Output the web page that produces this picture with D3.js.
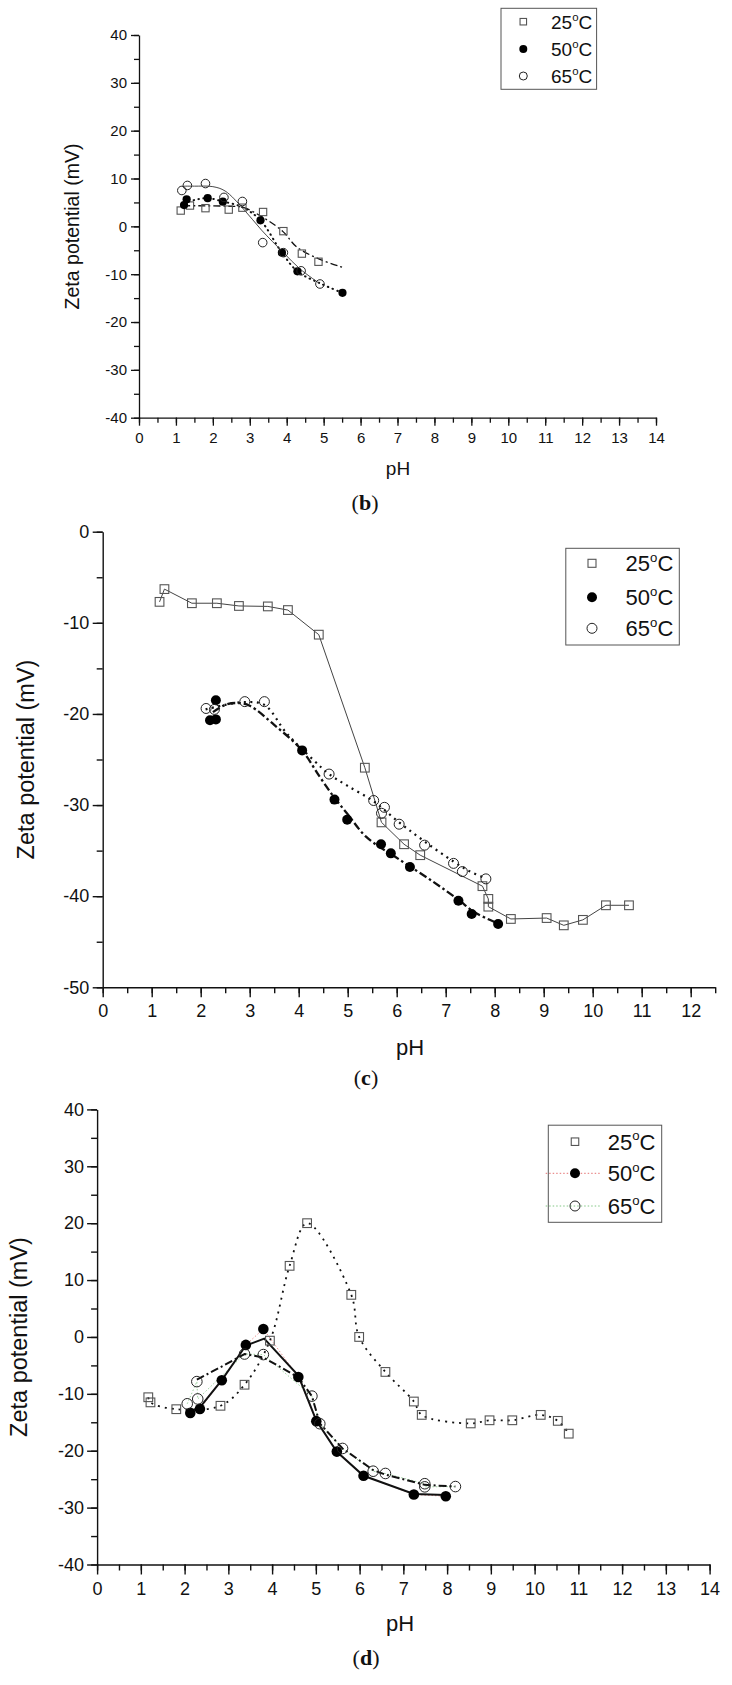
<!DOCTYPE html>
<html><head><meta charset="utf-8">
<script src="https://cdn.jsdelivr.net/npm/d3@7"></script>
<style>html,body{margin:0;padding:0;background:#fff}svg{display:block}</style>
</head><body>
<svg id="chart" width="732" height="1685"></svg>
<script>
// ---------- DATA ----------
const seriesNames = ["25", "50", "65"];

// Panel (b)
const bPH25   = [1.13, 1.38, 1.80, 2.43, 2.80, 3.36, 3.91, 4.41, 4.86];
const bZeta25 = [3.3, 4.35, 3.8, 3.5, 3.9, 3.0, -1.0, -5.7, -7.4];
const bPH50   = [1.22, 1.29, 1.86, 2.27, 3.29, 3.87, 4.29, 5.51];
const bZeta50 = [4.45, 5.65, 5.9, 5.15, 1.25, -5.5, -9.4, -13.9];
const bPH65   = [1.16, 1.31, 1.80, 2.30, 2.80, 3.35, 3.91, 4.39, 4.90];
const bZeta65 = [7.5, 8.55, 8.95, 6.05, 5.2, -3.4, -5.5, -9.3, -12.05];
const bFitPH25   = [1.2, 1.8, 2.4, 2.8, 3.33, 3.9, 4.27, 4.9, 5.53];
const bFitZeta25 = [4.3, 4.3, 4.2, 4.0, 2.0, -1.1, -4.3, -6.9, -8.6];
const bFitPH50   = [1.22, 1.5, 1.86, 2.27, 2.8, 3.29, 3.87, 4.29, 4.9, 5.51];
const bFitZeta50 = [4.8, 5.5, 5.9, 5.2, 4.0, 1.25, -5.5, -9.4, -11.9, -13.9];
const bFitPH65   = [1.2, 1.5, 2.0, 2.33, 2.82, 3.32, 3.9, 4.36, 4.9];
const bFitZeta65 = [8.4, 8.4, 8.3, 7.4, 3.7, -0.8, -5.4, -8.9, -12.0];

// Panel (c)
const cPH25   = [1.16, 1.26, 1.82, 2.33, 2.78, 3.37, 3.78, 4.41, 5.35, 5.69, 6.15, 6.48, 7.75, 7.87, 7.87, 8.33, 9.06, 9.41, 9.80, 10.27, 10.74];
const cZeta25 = [-7.7, -6.3, -7.85, -7.85, -8.15, -8.2, -8.6, -11.3, -25.9, -31.9, -34.3, -35.5, -38.9, -40.3, -41.15, -42.5, -42.4, -43.2, -42.6, -41.0, -41.0];
const cPH50   = [2.19, 2.31, 2.31, 4.07, 4.73, 4.99, 5.68, 5.88, 6.27, 7.26, 7.53, 8.07];
const cZeta50 = [-20.7, -20.6, -18.5, -24.0, -29.4, -31.6, -34.3, -35.3, -36.8, -40.5, -41.95, -43.05];
const cPH65   = [2.11, 2.28, 2.90, 3.30, 4.62, 5.53, 5.69, 5.75, 6.05, 6.57, 7.16, 7.34, 7.82];
const cZeta65 = [-19.4, -19.5, -18.65, -18.65, -26.6, -29.5, -30.9, -30.25, -32.1, -34.4, -36.4, -37.3, -38.1];
const cFitPH50   = [2.25, 2.5, 2.75, 3.0, 3.5, 4.06, 4.43, 4.73, 5.0, 5.38, 6.06, 6.74, 7.26, 7.6, 8.07];
const cFitZeta50 = [-19.8, -19.0, -18.8, -19.1, -21.2, -23.95, -26.9, -29.2, -31.0, -33.5, -36.0, -38.4, -40.4, -41.8, -43.0];
const cFitPH65   = [2.1, 2.5, 2.9, 3.3, 3.75, 4.3, 4.62, 5.0, 5.53, 6.05, 6.57, 7.16, 7.5, 7.8];
const cFitZeta65 = [-19.5, -19.0, -18.7, -19.0, -22.1, -25.05, -26.6, -27.9, -29.6, -31.9, -34.0, -36.2, -37.3, -38.0];

// Panel (d)
const dPH25   = [1.17, 1.22, 1.81, 2.82, 3.37, 3.95, 4.40, 4.80, 5.81, 5.99, 6.59, 7.24, 7.42, 8.54, 8.97, 9.49, 10.14, 10.53, 10.78];
const dZeta25 = [-10.6, -11.5, -12.7, -12.1, -8.4, -0.65, 12.5, 20.0, 7.4, 0.0, -6.15, -11.35, -13.7, -15.2, -14.65, -14.65, -13.7, -14.75, -17.0];
const dPH50   = [2.13, 2.35, 2.85, 3.40, 3.80, 4.60, 5.01, 5.48, 6.09, 7.24, 7.97];
const dZeta50 = [-13.35, -12.65, -7.6, -1.4, 1.4, -7.05, -14.8, -20.15, -24.4, -27.7, -28.0];
const dPH65   = [2.06, 2.28, 2.30, 3.37, 3.80, 4.91, 5.09, 5.61, 6.31, 6.59, 7.49, 7.49, 8.19];
const dZeta65 = [-11.75, -7.85, -10.9, -3.0, -3.1, -10.4, -15.25, -19.6, -23.6, -24.0, -25.8, -26.35, -26.3];
const dFitPH50   = [2.13, 2.35, 2.85, 3.40, 3.82, 4.60, 5.01, 5.48, 6.09, 7.24, 7.97];
const dFitZeta50 = [-13.0, -12.4, -7.6, -1.5, -0.3, -6.8, -14.7, -20.2, -24.4, -27.6, -27.8];
const dFitPH65   = [2.28, 2.8, 3.37, 3.8, 4.6, 4.91, 5.09, 5.61, 6.31, 6.59, 7.49, 8.19];
const dFitZeta65 = [-7.5, -5.4, -3.0, -3.6, -7.1, -10.4, -15.2, -19.6, -23.4, -24.2, -26.0, -26.3];

// Tick values
const ticks14 = d3.range(0, 15, 1);
const minor14 = d3.range(0, 14.01, 0.5);
const ticks12 = d3.range(0, 13, 1);
const minor12 = d3.range(0, 12.51, 0.5);
const yTicks40 = [40, 30, 20, 10, 0, -10, -20, -30, -40];
const yMinor40 = d3.range(-40, 40.01, 5);
const yTicks50 = [0, -10, -20, -30, -40, -50];
const yMinor50 = d3.range(-50, 0.01, 5);

// ---------- DRAWING ----------
const SANS = "'Liberation Sans', Arial, Helvetica, sans-serif";
const SERIF = "'Liberation Serif', 'Times New Roman', serif";
const svg = d3.select('#chart');
svg.append('rect').attr('width', 732).attr('height', 1685).attr('fill', '#fff');

function degText(sel, num, size) {
  sel.append('tspan').text(num);
  sel.append('tspan').attr('font-size', size * 0.6).attr('dy', -size * 0.42).text('o');
  sel.append('tspan').attr('dy', size * 0.42).text('C');
}

function panel(cfg) {
  const g = svg.append('g');
  const x = d3.scaleLinear().domain(cfg.xDomain).range(cfg.xRange);
  const y = d3.scaleLinear().domain(cfg.yDomain).range(cfg.yRange);
  const xL = cfg.xRange[0], yB = cfg.yRange[0];
  const fmt = d => String(d);

  // minor ticks
  g.append('g').attr('transform', `translate(0,${yB})`)
    .call(d3.axisBottom(x).tickValues(cfg.xMinor).tickSize(cfg.minor).tickFormat(''))
    .call(s => { s.select('.domain').remove(); s.selectAll('line').attr('stroke-width', cfg.sw); });
  g.append('g').attr('transform', `translate(${xL},0)`)
    .call(d3.axisLeft(y).tickValues(cfg.yMinor).tickSize(cfg.minor).tickFormat(''))
    .call(s => { s.select('.domain').remove(); s.selectAll('line').attr('stroke-width', cfg.sw); });
  // major
  g.append('g').attr('transform', `translate(0,${yB})`)
    .call(d3.axisBottom(x).tickValues(cfg.xTicks).tickSize(cfg.major).tickSizeOuter(0).tickPadding(cfg.xPad).tickFormat(fmt))
    .call(s => {
      s.select('.domain').attr('stroke-width', cfg.sw);
      s.selectAll('line').attr('stroke-width', cfg.sw);
      s.selectAll('text').attr('font-family', SANS).attr('font-size', cfg.tickFont).attr('fill', '#111');
    });
  g.append('g').attr('transform', `translate(${xL},0)`)
    .call(d3.axisLeft(y).tickValues(cfg.yTicks).tickSize(cfg.major).tickSizeOuter(0).tickPadding(cfg.yPad).tickFormat(fmt))
    .call(s => {
      s.select('.domain').attr('stroke-width', cfg.sw);
      s.selectAll('line').attr('stroke-width', cfg.sw);
      s.selectAll('text').attr('font-family', SANS).attr('font-size', cfg.tickFont).attr('fill', '#111');
    });
  g.selectAll('.domain').attr('stroke', '#111');
  g.selectAll('.tick line').attr('stroke', '#111');

  // titles
  g.append('text').attr('transform', `translate(${cfg.yTitle[0]},${cfg.yTitle[1]}) rotate(-90)`)
    .attr('text-anchor', 'middle').attr('dy', '0.35em')
    .attr('font-family', SANS).attr('font-size', cfg.yTitleFont).attr('fill', '#111')
    .text('Zeta potential (mV)');
  g.append('text').attr('x', cfg.xTitle[0]).attr('y', cfg.xTitle[1]).attr('text-anchor', 'middle').attr('dy', '0.35em')
    .attr('font-family', SANS).attr('font-size', cfg.xTitleFont).attr('fill', '#111').text('pH');
  const lab = g.append('text').attr('x', cfg.label[0]).attr('y', cfg.label[1]).attr('text-anchor', 'middle').attr('dy', '0.35em')
    .attr('font-family', SERIF).attr('font-size', 22).attr('fill', '#111');
  lab.append('tspan').text('(');
  lab.append('tspan').attr('font-weight', 'bold').text(cfg.letter);
  lab.append('tspan').text(')');

  const plot = g.append('g');
  // lines
  cfg.lines.forEach(L => {
    const pts = L.xs.map((v, i) => [v, L.ys[i]]);
    plot.append('path')
      .attr('d', d3.line().x(d => x(d[0])).y(d => y(d[1])).curve(L.curve || d3.curveLinear)(pts))
      .attr('fill', 'none').attr('stroke', L.color || '#111').attr('stroke-width', L.width)
      .attr('stroke-dasharray', L.dash || null).attr('stroke-linecap', L.cap || 'butt');
  });
  // markers
  cfg.markers.forEach(M => {
    const pts = M.xs.map((v, i) => [v, M.ys[i]]);
    drawMarkers(plot, pts.map(p => [x(p[0]), y(p[1])]), M.type, M.size);
  });

  // legend
  const Lg = cfg.legend;
  g.append('rect').attr('x', Lg.box[0]).attr('y', Lg.box[1]).attr('width', Lg.box[2]).attr('height', Lg.box[3])
    .attr('fill', '#fff').attr('stroke', '#555').attr('stroke-width', 1);
  Lg.items.forEach((it, i) => {
    const yy = Lg.ys[i];
    if (it.line) {
      g.append('line').attr('x1', Lg.lineX[0]).attr('x2', Lg.lineX[1]).attr('y1', yy).attr('y2', yy)
        .attr('stroke', it.line).attr('stroke-width', 1).attr('stroke-dasharray', '1.5,2');
    }
    drawMarkers(g, [[Lg.mx, yy]], it.type, it.size);
    const t = g.append('text').attr('x', Lg.tx).attr('y', yy + Lg.font * 0.36)
      .attr('font-family', SANS).attr('font-size', Lg.font).attr('fill', '#111');
    degText(t, seriesNames[i], Lg.font);
  });
}

function drawMarkers(g, pts, type, s) {
  if (type === 'square') {
    g.selectAll(null).data(pts).enter().append('rect')
      .attr('x', d => d[0] - s / 2).attr('y', d => d[1] - s / 2).attr('width', s).attr('height', s)
      .attr('fill', 'none').attr('stroke', '#555').attr('stroke-width', 1.1);
  } else if (type === 'filled') {
    g.selectAll(null).data(pts).enter().append('circle')
      .attr('cx', d => d[0]).attr('cy', d => d[1]).attr('r', s).attr('fill', '#000');
  } else {
    g.selectAll(null).data(pts).enter().append('circle')
      .attr('cx', d => d[0]).attr('cy', d => d[1]).attr('r', s)
      .attr('fill', 'none').attr('stroke', '#222').attr('stroke-width', 1);
  }
}

const smooth = d3.curveCatmullRom.alpha(0.5);

// Panel (b)
panel({
  letter: 'b',
  xDomain: [0, 14], xRange: [139, 656], yDomain: [-40, 40], yRange: [417.7, 35],
  xTicks: ticks14, xMinor: minor14, yTicks: yTicks40, yMinor: yMinor40,
  major: 8, minor: 5, sw: 1.3, xPad: 7, yPad: 4, tickFont: 15,
  yTitle: [72, 226.5], yTitleFont: 19.5, xTitle: [398, 468], xTitleFont: 19, label: [365, 502],
  lines: [
    { xs: bFitPH25, ys: bFitZeta25, width: 1.3, dash: '7,3,2,3', curve: smooth },
    { xs: bFitPH50, ys: bFitZeta50, width: 2, dash: '0.5,4.5', cap: 'round', curve: smooth },
    { xs: bFitPH65, ys: bFitZeta65, width: 0.9, color: '#333', curve: smooth }
  ],
  markers: [
    { xs: bPH25, ys: bZeta25, type: 'square', size: 7.3 },
    { xs: bPH50, ys: bZeta50, type: 'filled', size: 4.1 },
    { xs: bPH65, ys: bZeta65, type: 'open', size: 4.3 }
  ],
  legend: { box: [501, 8.3, 95.6, 81], mx: 523.3, tx: 551, ys: [21.7, 49, 76], font: 19,
    items: [{ type: 'square', size: 6.5 }, { type: 'filled', size: 4 }, { type: 'open', size: 4 }] }
});

// Panel (c)
panel({
  letter: 'c',
  xDomain: [0, 12.5], xRange: [102.7, 715.2], yDomain: [-50, 0], yRange: [987.3, 531.7],
  xTicks: ticks12, xMinor: minor12, yTicks: yTicks50, yMinor: yMinor50,
  major: 10, minor: 6, sw: 1.4, xPad: 7, yPad: 3.5, tickFont: 18,
  yTitle: [26, 759.5], yTitleFont: 23.5, xTitle: [410, 1047], xTitleFont: 22, label: [366, 1077],
  lines: [
    { xs: cPH25, ys: cZeta25, width: 1, color: '#444' },
    { xs: cFitPH50, ys: cFitZeta50, width: 2.3, dash: '8,3,2.5,3', curve: smooth },
    { xs: cFitPH65, ys: cFitZeta65, width: 2.2, dash: '2,4.5', curve: smooth }
  ],
  markers: [
    { xs: cPH25, ys: cZeta25, type: 'square', size: 8.7 },
    { xs: cPH50, ys: cZeta50, type: 'filled', size: 5 },
    { xs: cPH65, ys: cZeta65, type: 'open', size: 5 }
  ],
  legend: { box: [565.8, 548.3, 113.5, 96.7], mx: 592, tx: 625.6, ys: [563.3, 597.3, 628.3], font: 22,
    items: [{ type: 'square', size: 8 }, { type: 'filled', size: 5 }, { type: 'open', size: 5 }] }
});

// Panel (d)
panel({
  letter: 'd',
  xDomain: [0, 14], xRange: [97.1, 709.6], yDomain: [-40, 40], yRange: [1564.5, 1109.4],
  xTicks: ticks14, xMinor: minor14, yTicks: yTicks40, yMinor: yMinor40,
  major: 10, minor: 6, sw: 1.4, xPad: 8, yPad: 3, tickFont: 18,
  yTitle: [19, 1337], yTitleFont: 23.5, xTitle: [400, 1623], xTitleFont: 22, label: [366, 1657],
  lines: [
    { xs: dPH50, ys: dZeta50, width: 0.8, color: '#e57373', dash: '1.5,2' },
    { xs: dPH65, ys: dZeta65, width: 0.8, color: '#81c784', dash: '1.5,2' },
    { xs: dPH25, ys: dZeta25, width: 1.8, dash: '2,5', curve: smooth },
    { xs: dFitPH50, ys: dFitZeta50, width: 2 },
    { xs: dFitPH65, ys: dFitZeta65, width: 2, dash: '8,3,2,3' }
  ],
  markers: [
    { xs: dPH25, ys: dZeta25, type: 'square', size: 8.7 },
    { xs: dPH50, ys: dZeta50, type: 'filled', size: 5.3 },
    { xs: dPH65, ys: dZeta65, type: 'open', size: 5.3 }
  ],
  legend: { box: [548.3, 1125.2, 113.4, 97.1], mx: 575, tx: 607.7, ys: [1141.7, 1173.3, 1206], font: 22,
    lineX: [545.7, 601.7],
    items: [{ type: 'square', size: 7.5 }, { type: 'filled', size: 5, line: '#e57373' }, { type: 'open', size: 5, line: '#81c784' }] }
});
</script>
</body></html>
